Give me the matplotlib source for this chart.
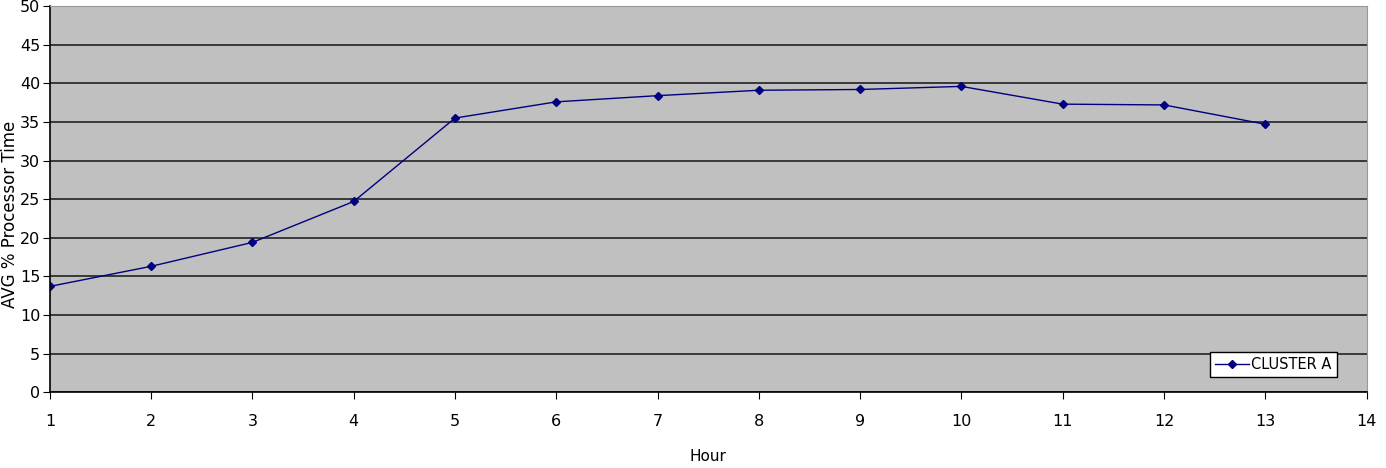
import matplotlib
matplotlib.use("Agg")
import matplotlib.pyplot as plt

plt.rcParams['font.family'] = ['DejaVu Sans']

hours = [1, 2, 3, 4, 5, 6, 7, 8, 9, 10, 11, 12, 13]
cluster_a = [13.7, 16.3, 19.4, 24.7, 35.5, 37.6, 38.4, 39.1, 39.2, 39.6, 37.3, 37.2, 34.7]

fig = plt.figure(figsize=(13.86, 4.68), dpi=100)
ax = fig.add_axes([0.036, 0.162, 0.95, 0.825])
ax.set_facecolor('#C0C0C0')

ax.plot(hours, cluster_a, color='#000080', marker='D', markersize=4, linewidth=1, label='CLUSTER A')

ax.set_xlim(1, 14)
ax.set_ylim(0, 50)
ax.set_xticks(range(1, 15))
ax.set_yticks(range(0, 51, 5))
ax.yaxis.grid(True, color='#222222', linewidth=1.2)
ax.set_axisbelow(True)

for s in ['top', 'right']:
    ax.spines[s].set_color('#999999')
for s in ['left', 'bottom']:
    ax.spines[s].set_color('black')
    ax.spines[s].set_linewidth(1.2)

ax.tick_params(axis='both', direction='out', length=5, labelsize=11.5, colors='black')
ax.tick_params(axis='x', pad=11)
ax.tick_params(axis='y', pad=2)

ax.set_xlabel('Hour', fontsize=11, labelpad=14)
ax.set_ylabel('AVG % Processor Time', fontsize=12)
ax.yaxis.set_label_coords(-0.0235, 0.46)

leg = ax.legend(loc='lower right', bbox_to_anchor=(0.983, 0.02), fontsize=10.5, fancybox=False,
                framealpha=1, edgecolor='black', borderpad=0.35, handlelength=2.3, handletextpad=0.2)
leg.get_frame().set_linewidth(1)

fig.savefig('out.png', dpi=100)
